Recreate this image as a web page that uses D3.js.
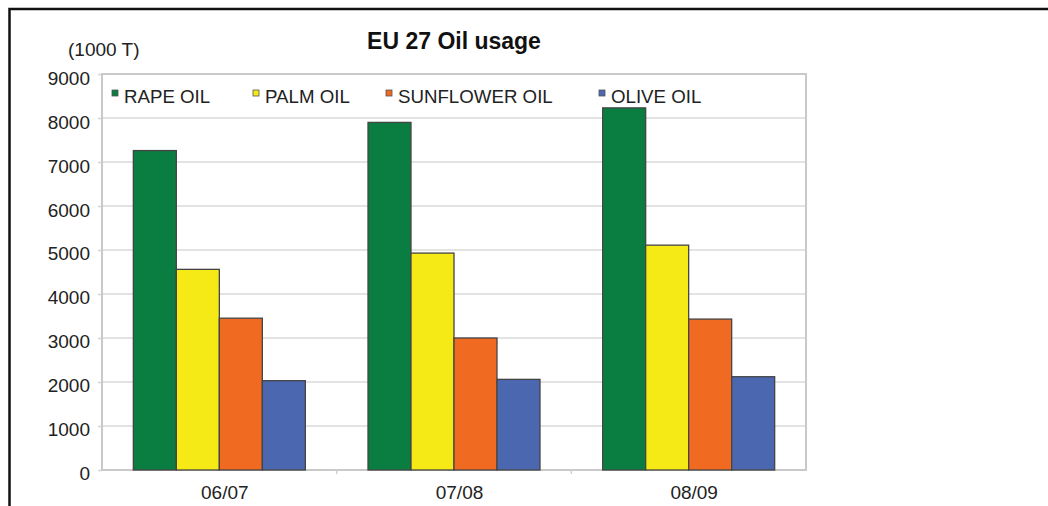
<!DOCTYPE html>
<html>
<head>
<meta charset="utf-8">
<script src="https://cdn.jsdelivr.net/npm/d3@7"></script>
<style>
  html, body { margin: 0; padding: 0; background: #fff; }
  svg { display: block; font-family: "Liberation Sans", Arial, sans-serif; }
</style>
</head>
<body>
<svg id="chart" width="1048" height="506"></svg>
<script>
const categories = ["06/07", "07/08", "08/09"];
const seriesNames = ["RAPE OIL", "PALM OIL", "SUNFLOWER OIL", "OLIVE OIL"];
const rapeOil = [7260, 7900, 8230];
const palmOil = [4560, 4930, 5110];
const sunflowerOil = [3450, 3000, 3430];
const oliveOil = [2030, 2060, 2120];
const yTicks = [0, 1000, 2000, 3000, 4000, 5000, 6000, 7000, 8000, 9000];
const seriesColors = ["#0a7d40", "#f5e916", "#f06a22", "#4a67b0"];
const titleText = "EU 27 Oil usage";
const unitText = "(1000 T)";

const seriesValues = [rapeOil, palmOil, sunflowerOil, oliveOil];

const svg = d3.select("#chart");
const plot = { left: 102, right: 806, top: 74, bottom: 470 };

// outer frame
svg.append("rect")
  .attr("x", 9.5).attr("y", 9)
  .attr("width", 1100).attr("height", 600)
  .attr("fill", "none").attr("stroke", "#111").attr("stroke-width", 2.5);

const x = d3.scaleBand().domain(categories).range([plot.left, plot.right]).padding(0);
const y = d3.scaleLinear().domain([0, 9000]).range([plot.bottom, plot.top]);
const groupWidth = 172;
const xInner = d3.scaleBand().domain(seriesNames).range([0, groupWidth]).padding(0);

// gridlines + left ticks
const yAxis = d3.axisLeft(y).tickValues(yTicks).tickSize(4).tickFormat("");
const gy = svg.append("g").attr("transform", `translate(${plot.left},0)`).call(yAxis);
gy.select(".domain").remove();
gy.selectAll(".tick line").attr("stroke", "#d6d6d6").attr("stroke-width", 1.5);

svg.append("g").selectAll("line.grid").data(yTicks).join("line")
  .attr("class", "grid")
  .attr("x1", plot.left).attr("x2", plot.right)
  .attr("y1", d => y(d)).attr("y2", d => y(d))
  .attr("stroke", "#e3e3e3").attr("stroke-width", 1.8);

// tick labels
svg.append("g").selectAll("text.ylab").data(yTicks).join("text")
  .attr("class", "ylab")
  .attr("x", 90).attr("y", d => y(d) + 9.5 + (d / 9000) * 1.5)
  .attr("text-anchor", "end")
  .attr("font-size", 19).attr("fill", "#222")
  .text(d => d);

// plot border
svg.append("rect")
  .attr("x", plot.left).attr("y", plot.top)
  .attr("width", plot.right - plot.left).attr("height", plot.bottom - plot.top)
  .attr("fill", "none").attr("stroke", "#c9c9c9").attr("stroke-width", 2);

// x axis category ticks
const xAxis = d3.axisBottom(x).tickSize(0).tickFormat("");
const gx = svg.append("g").attr("transform", `translate(0,${plot.bottom})`).call(xAxis);
gx.select(".domain").remove();
svg.append("g").selectAll("line.xt").data(categories.slice(1)).join("line")
  .attr("x1", d => x(d)).attr("x2", d => x(d))
  .attr("y1", plot.bottom).attr("y2", plot.bottom + 4)
  .attr("stroke", "#d0d0d0").attr("stroke-width", 1.5);

// bars
const groups = svg.append("g").selectAll("g.cat").data(categories).join("g")
  .attr("transform", d => `translate(${x(d) + x.bandwidth() / 2 - groupWidth / 2},0)`);
groups.selectAll("rect").data((c, ci) => seriesNames.map((s, si) => ({ s, si, v: seriesValues[si][ci] })))
  .join("rect")
  .attr("x", d => xInner(d.s))
  .attr("y", d => y(d.v))
  .attr("width", xInner.bandwidth())
  .attr("height", d => y(0) - y(d.v))
  .attr("fill", d => seriesColors[d.si])
  .attr("stroke", "#454545").attr("stroke-width", 1.3);

// category labels
svg.append("g").selectAll("text.xlab").data(categories).join("text")
  .attr("x", d => x(d) + x.bandwidth() / 2 + 5.5)
  .attr("y", 499)
  .attr("text-anchor", "middle")
  .attr("font-size", 19).attr("fill", "#222")
  .text(d => d);

// legend
const legendX = [112, 253, 386, 599];
const lg = svg.append("g").selectAll("g.leg").data(seriesNames).join("g")
  .attr("transform", (d, i) => `translate(${legendX[i]},0)`);
lg.append("rect")
  .attr("x", 0).attr("y", 90).attr("width", 6).attr("height", 6)
  .attr("fill", (d, i) => seriesColors[i])
  .attr("stroke", "#555").attr("stroke-width", 0.8);
lg.append("text")
  .attr("x", 12).attr("y", 102.5)
  .attr("font-size", 18.7).attr("fill", "#222")
  .text(d => d);

// title & unit
svg.append("text")
  .attr("x", (plot.left + plot.right) / 2).attr("y", 48.5)
  .attr("text-anchor", "middle")
  .attr("font-size", 23).attr("font-weight", "bold").attr("fill", "#111")
  .text(titleText);
svg.append("text")
  .attr("x", 68).attr("y", 55.5)
  .attr("font-size", 19).attr("fill", "#222")
  .text(unitText);
</script>
</body>
</html>
